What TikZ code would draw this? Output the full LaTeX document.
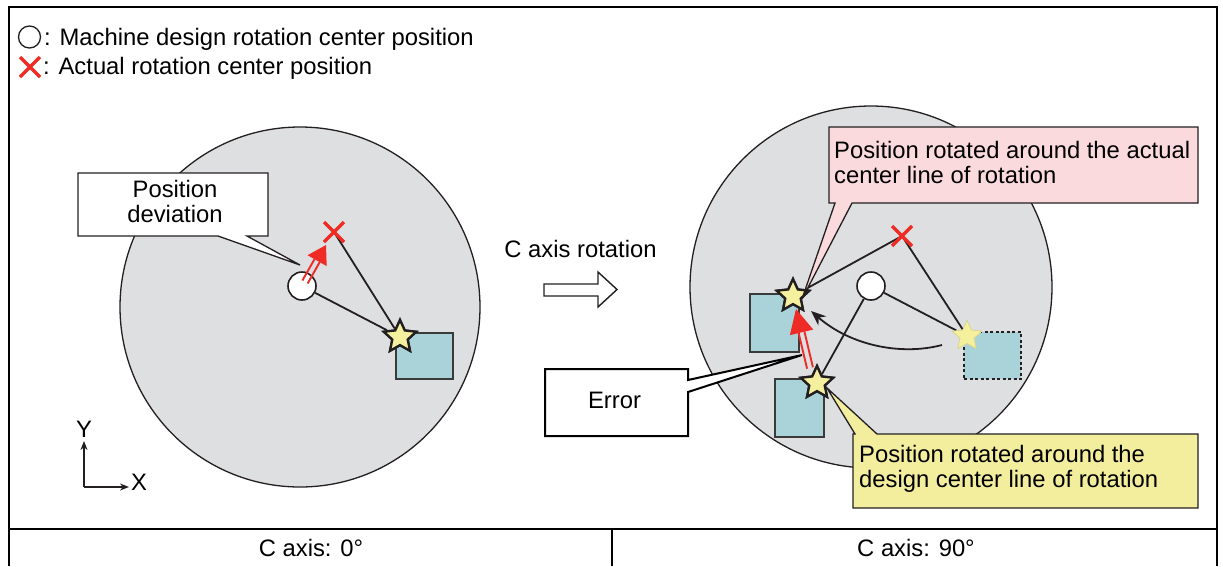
\documentclass[tikz,border=0pt]{standalone}
\usepackage{fontspec}
\setmainfont{Liberation Sans}
\usetikzlibrary{shapes.geometric,calc,arrows.meta}
\definecolor{diskgray}{HTML}{DEDFE1}
\definecolor{blueish}{HTML}{A9D3D8}
\definecolor{staryellow}{HTML}{F4F09E}
\definecolor{staredge}{HTML}{D8D48A}
\definecolor{pinkish}{HTML}{FBDADD}
\definecolor{yellowbox}{HTML}{F2EE9D}
\definecolor{crossred}{HTML}{EE2B24}
\definecolor{linecol}{HTML}{231F20}
\definecolor{sqedge}{HTML}{3A3A3A}
\begin{document}
\begin{tikzpicture}[x=1pt,y=-1pt,
  font=\fontsize{23.8}{25}\selectfont,
  disk/.style={draw=linecol, line width=1.3pt, fill=diskgray},
  workpiece/.style={draw=sqedge, line width=1.5pt, fill=blueish},
  ghostpiece/.style={draw=linecol, line width=2.2pt, dash pattern=on 3pt off 2.5pt, fill=blueish},
  starmark/.style={star, star points=5, star point ratio=2.1, minimum size=34pt, inner sep=0pt, draw=linecol, line width=2.3pt, fill=staryellow},
  ghoststar/.style={star, star points=5, star point ratio=2.1, minimum size=31pt, inner sep=0pt, draw=staredge, line width=0.6pt, fill=staryellow},
  designcenter/.style={circle, draw=linecol, line width=1.6pt, fill=white, minimum size=28pt, inner sep=0pt},
  link/.style={draw=linecol, line width=1.8pt},
  callout/.style={draw=linecol, line width=1.3pt},
  frameline/.style={draw=black, line width=2pt},
  txt/.style={inner sep=0pt},
  redcross/.pic={\draw[crossred, line width=3.4pt] (-10,-10) -- (10,10) (-10,10) -- (10,-10);}
]
\useasboundingbox (0,0) rectangle (1223,566);

% frame and table
\draw[frameline] (9,566) -- (9,7) -- (1217,7) -- (1217,566);
\draw[frameline] (9,529) -- (1217,529);
\draw[frameline] (612,529) -- (612,566);
\node[txt, anchor=base] (c0) at (311,556) {C axis: 0°};
\node[txt, anchor=base] (c90) at (916,556) {C axis: 90°};

% legend
\node[circle, draw=linecol, line width=1.3pt, minimum size=22pt, inner sep=0pt] (legcircle) at (29.5,37) {};
\node[txt, anchor=base west] (legtext1) at (44,45) {: Machine design rotation center position};
\coordinate (legcross) at (30,67);
\pic at (legcross) {redcross};
\node[txt, anchor=base west] (legtext2) at (43,74) {: Actual rotation center position};

% ---------- left diagram ----------
\node[disk, circle, minimum size=360pt, inner sep=0pt] (diskL) at (300,307) {};
\node[workpiece, anchor=north west, minimum width=57pt, minimum height=46pt, inner sep=0pt] (sqL) at (395,332) {};
\node[designcenter] (cL) at (302,286) {};
\coordinate (xL) at (334,232);
\node[starmark] (sL) at (400,337) {};
\draw[link] (xL) -- (sL);
\draw[link] (cL) -- (sL);
\node[starmark] at (400,337) {};
\pic at (xL) {redcross};

% left red arrow (position deviation)
\coordinate (aLs) at (305,282);
\coordinate (aLt) at (326,245);
\coordinate (aLb) at ($(aLt)!18pt!(aLs)$);
\draw[crossred, line width=1.9pt]
  ($(aLs)!3pt!90:(aLb)$) -- ($(aLb)!3pt!-90:(aLs)$)
  ($(aLs)!3pt!-90:(aLb)$) -- ($(aLb)!3pt!90:(aLs)$);
\fill[crossred] (aLt) -- ($(aLb)!11pt!90:(aLt)$) -- ($(aLb)!11pt!-90:(aLt)$) -- cycle;

% callout "Position deviation"
\coordinate (devtip) at (300,265);
\draw[callout, fill=white] (78,173) -- (268,173) -- (268,236) -- (247,236) -- (devtip) -- (218,236) -- (78,236) -- cycle;
\node[txt, align=center] (devtext) at (175,201) {Position\\deviation};

% axes
\coordinate (origin) at (84,487);
\coordinate (yend) at (84,441);
\coordinate (xend) at (129,487);
\draw[link, -{Stealth[length=9pt,width=7pt]}] (origin) -- (yend);
\draw[link, -{Stealth[length=9pt,width=7pt]}] (origin) -- (xend);
\node[txt, anchor=base] (ylab) at (84,437) {Y};
\node[txt, anchor=base] (xlab) at (139,490) {X};

% C axis rotation arrow
\node[txt, anchor=base] (rotlab) at (580.5,257) {C axis rotation};
\draw[draw=linecol, line width=1.4pt, fill=white] (544,284) -- (598,284) -- (598,272) -- (617,289.5) -- (598,307) -- (598,296) -- (544,296) -- cycle;

% ---------- right diagram ----------
\node[disk, circle, minimum size=362pt, inner sep=0pt] (diskR) at (871,287) {};
\node[workpiece, anchor=north west, minimum width=49pt, minimum height=58pt, inner sep=0pt] (sqA) at (749,293) {};
\node[workpiece, anchor=north west, minimum width=49pt, minimum height=58pt, inner sep=0pt] (sqD) at (774,378) {};
\node[ghostpiece, anchor=north west, minimum width=57pt, minimum height=47pt, inner sep=0pt] (sqG) at (963,331) {};
\node[designcenter] (cR) at (871,286) {};
\coordinate (xR) at (902,236);
\node[starmark] (sA) at (793,296) {};
\node[starmark] (sD) at (817,383) {};
\node[ghoststar] (sG) at (967,336) {};
\draw[link] (xR) -- (sA);
\draw[link] (xR) -- (sG);
\draw[link] (cR) -- (sG);
\draw[link] (cR) -- (sD);
\node[starmark] at (793,296) {};
\node[starmark] at (817,383) {};
\node[ghoststar] at (967,336) {};
\pic at (xR) {redcross};

% curved rotation arrow
\coordinate (curvestart) at (942,345);
\coordinate (curveend) at (811,311);
\draw[link, -{Stealth[length=15pt,width=12pt]}] (curvestart) .. controls (900,356) and (850,345) .. (curveend);

% right red arrow (error)
\coordinate (aRs) at (810,368);
\coordinate (aRt) at (796,309);
\coordinate (aRb) at ($(aRt)!24pt!(aRs)$);
\draw[crossred, line width=1.9pt]
  ($(aRs)!3pt!90:(aRb)$) -- ($(aRb)!3pt!-90:(aRs)$)
  ($(aRs)!3pt!-90:(aRb)$) -- ($(aRb)!3pt!90:(aRs)$);
\fill[crossred] (aRt) -- ($(aRb)!12pt!90:(aRt)$) -- ($(aRb)!12pt!-90:(aRt)$) -- cycle;

% callout "Error"
\coordinate (errtip) at (802,355);
\draw[draw=black, line width=2pt, fill=white] (545,369) -- (688,369) -- (688,380) -- (errtip) -- (688,392) -- (688,436) -- (545,436) -- cycle;
\node[txt, anchor=base] (errtext) at (614.5,408) {Error};

% callout pink
\coordinate (pinktip) at (802,299);
\draw[callout, fill=pinkish] (829,127) -- (1198,127) -- (1198,203) -- (852,203) -- (pinktip) -- (835,203) -- (829,203) -- cycle;
\node[txt, align=left, anchor=west] (pinktext) at (834,162.5) {Position rotated around the actual\\center line of rotation};

% callout yellow
\coordinate (yeltip) at (827,388);
\draw[callout, fill=yellowbox] (853,434) -- (855,434) -- (yeltip) -- (877,434) -- (1198,434) -- (1198,508) -- (853,508) -- cycle;
\node[txt, align=left, anchor=west] (yeltext) at (859,468.4) {Position rotated around the\\design center line of rotation};
\end{tikzpicture}
\end{document}
